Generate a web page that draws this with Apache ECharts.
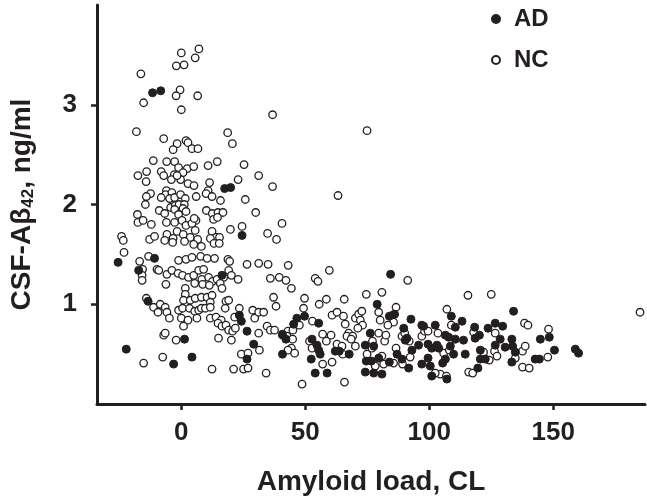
<!DOCTYPE html>
<html>
<head>
<meta charset="utf-8">
<script src="https://cdn.jsdelivr.net/npm/echarts@6/dist/echarts.min.js"></script>
<style>
  html, body { margin: 0; padding: 0; background: #fff; }
  #main { width: 647px; height: 501px; }
</style>
</head>
<body>
<div id="main"></div>
<script>
  // [amyloid load (CL), CSF-Ab42 (ng/ml)]
  var adPoints = [
    [-11.6, 3.12], [-8.3, 3.14], [17.5, 2.16], [19.9, 2.17], [24.5, 1.69],
    [-25.5, 1.42], [-10.8, 1.46], [-17.2, 1.34], [16.4, 1.29], [-13.4, 1.03],
    [23.4, 0.89], [24.2, 0.83], [26.5, 0.73], [29.2, 0.60], [1.3, 0.65],
    [-22.2, 0.55], [-3.1, 0.40], [4.3, 0.47], [26.5, 0.45],
    [84.4, 1.30], [79, 1.00], [83.9, 0.88], [86, 0.90], [46.6, 0.86], [49.7, 0.88],
    [55.4, 0.81], [92.6, 0.85], [97.7, 0.78], [45.3, 0.80], [40.8, 0.70], [42.2, 0.65],
    [40.8, 0.50], [52.7, 0.65], [55.4, 0.54], [52.4, 0.45], [56, 0.50], [54.7, 0.59],
    [62.1, 0.53], [63.7, 0.53], [67.7, 0.50], [54, 0.31], [58.8, 0.31],
    [74.2, 0.59], [76.2, 0.71], [77.6, 0.58], [74.6, 0.43], [76.6, 0.43], [74.2, 0.32],
    [77.6, 0.31], [80.9, 0.30], [79.6, 0.46], [83.9, 0.42], [87, 0.50], [89, 0.45],
    [91.7, 0.36], [91, 0.66], [89.7, 0.76], [90.3, 0.64], [95.7, 0.59], [97, 0.79],
    [99.5, 0.60], [101, 0.56], [100.4, 0.38], [99.5, 0.46], [97, 0.40], [93, 0.54],
    [134, 0.93], [108.9, 0.88], [113.2, 0.83], [110.5, 0.77], [118.3, 0.77], [123.7, 0.76],
    [126.6, 0.81], [129.6, 0.78], [102.4, 0.79], [106.5, 0.69], [107.8, 0.67], [110.5, 0.65],
    [113.8, 0.64], [118.5, 0.66], [120.2, 0.69], [133.3, 0.65], [128.6, 0.65], [144.8, 0.65],
    [148.4, 0.67], [103.1, 0.59], [103.8, 0.56], [108.5, 0.58], [109.8, 0.50], [114.5, 0.50],
    [120.6, 0.54], [126.6, 0.59], [130.6, 0.57], [133.6, 0.58], [134.7, 0.52], [150.5, 0.54],
    [158.9, 0.55], [160.2, 0.51], [106.5, 0.45], [105.4, 0.41], [120.6, 0.45], [122.6, 0.45],
    [133.3, 0.42], [142.7, 0.45], [144.4, 0.45], [119.6, 0.36], [107.1, 0.25], [101, 0.28]
  ];

  var ncPoints = [
    [0, 3.52], [7.1, 3.56], [5.6, 3.47], [-2, 3.39], [1.1, 3.40], [-16.3, 3.31],
    [-0.5, 3.15], [-2.1, 3.09], [6.6, 3.09], [-15.2, 3.02], [0, 2.95], [-18.1, 2.73],
    [18.7, 2.72], [36.8, 2.90], [74.9, 2.74], [36.8, 2.18], [63.2, 2.09], [40.6, 1.81],
    [34.8, 1.71], [38.4, 1.65], [35, 1.40], [43.1, 1.39],
    [-7.1, 2.66], [1.9, 2.64], [2.7, 2.62], [-1.7, 2.61], [-3.3, 2.55], [4.3, 2.56],
    [6.7, 2.56], [20.6, 2.61], [-11.3, 2.44], [-5.9, 2.43], [-2.7, 2.43], [-1.1, 2.37],
    [2.4, 2.36], [5, 2.38], [10.8, 2.39], [14.5, 2.43], [25.3, 2.40], [31.2, 2.29],
    [-17.5, 2.29], [-14, 2.33], [-14.2, 2.23], [-8.1, 2.33], [-7.1, 2.29], [-2.8, 2.30],
    [0.7, 2.32], [-4, 2.25], [-0.3, 2.25], [-1.7, 2.29], [2.7, 2.21], [5.1, 2.19],
    [11.4, 2.22], [22.9, 2.25], [10.8, 2.14], [10, 2.11], [12.4, 2.08], [15.8, 2.04],
    [25.8, 2.05], [-12.4, 2.11], [-14.1, 2.08], [-14.5, 2.00], [-6, 2.14], [-6.3, 2.10],
    [-3.8, 2.12], [-8.1, 2.07], [-4.7, 2.06], [-2.7, 2.07], [-0.3, 2.10], [1.6, 2.06],
    [6, 2.08], [-8.9, 1.94], [-6.7, 1.91], [-4.3, 1.97], [-2.4, 1.99], [-0.9, 2.00],
    [1.2, 2.00], [0.7, 1.96], [-2.7, 1.95], [-1.1, 1.90], [1.9, 1.93], [5.9, 1.84],
    [10.1, 1.94], [12.5, 1.91], [14.8, 1.92], [16.8, 1.92], [13, 1.85], [14.6, 1.87],
    [30, 1.92], [-17.7, 1.90], [-17.5, 1.82], [-15.4, 1.84], [-12.1, 1.80], [-6, 1.82],
    [-2.7, 1.82], [0.3, 1.84], [1.9, 1.79], [4.3, 1.81], [5.2, 1.86], [-1.7, 1.73],
    [-5.8, 1.70], [-3.3, 1.66], [-6.7, 1.64], [-3.5, 1.62], [0.8, 1.70], [3.6, 1.67],
    [1.3, 1.63], [5.6, 1.74], [6.6, 1.65], [5, 1.60], [8.1, 1.58], [12.4, 1.73],
    [14, 1.67], [15.4, 1.67], [11.7, 1.66], [13.2, 1.61], [15.3, 1.61], [19.8, 1.75],
    [24.5, 1.78], [-24.1, 1.68], [-23.4, 1.64], [-12.8, 1.65], [-10.8, 1.68], [-23.1, 1.52],
    [-16.8, 1.43], [-13.2, 1.48], [-1.1, 1.44], [1.9, 1.45], [4.3, 1.47], [7.8, 1.48],
    [10.4, 1.46], [13.4, 1.46], [18.8, 1.45], [19.5, 1.43], [26.5, 1.40], [31.2, 1.41],
    [-15.6, 1.35], [-15.8, 1.29], [-15.8, 1.24], [-9.8, 1.35], [-9.1, 1.34], [-5.8, 1.30],
    [-3.8, 1.34], [-1.3, 1.31], [0.5, 1.29], [2.9, 1.27], [5, 1.29], [7, 1.34], [9, 1.35],
    [8.3, 1.25], [11, 1.27], [12.6, 1.23], [14.4, 1.25], [17.1, 1.27], [19.1, 1.34],
    [20.2, 1.29], [22.9, 1.25], [-6.2, 1.20], [5.4, 1.21], [8.6, 1.20], [11.3, 1.19],
    [15.7, 1.21], [16.4, 1.16], [1.6, 1.16], [1.6, 1.10], [0.9, 1.04], [3.6, 1.04],
    [5.6, 1.06], [8.1, 1.07], [10.4, 1.07], [12.4, 1.09], [11.7, 1.02], [-14.1, 1.06],
    [-11.2, 0.97], [-8.5, 1.00], [-6.5, 0.97], [-9.4, 0.92], [-5.8, 0.92], [-4.8, 0.86],
    [-1.1, 0.94], [0.5, 0.96], [3.3, 0.96], [5.4, 0.93], [7, 0.94], [8.1, 0.96], [9.7, 0.96],
    [11.7, 0.97], [0, 0.86], [2.7, 0.84], [0.9, 0.78], [6.3, 0.86], [11.7, 0.86], [14, 0.87],
    [16.1, 0.84], [18, 1.03], [19.1, 1.04], [23.4, 0.96], [17.7, 0.96], [14.8, 0.81],
    [16.4, 0.78], [18, 0.79], [19.1, 0.74], [20.7, 0.73], [21.8, 0.76], [21.5, 0.87],
    [20.2, 0.64], [15, 0.66], [28.8, 0.94], [29.6, 0.86], [31.2, 0.92], [33.2, 0.92],
    [31.2, 0.71], [31.5, 0.54], [-7.1, 0.69], [-6.5, 0.71], [-2.1, 0.64], [-15.2, 0.41],
    [-7.5, 0.47], [12.4, 0.35], [21.1, 0.35], [25.1, 0.35], [26.9, 0.36], [24.2, 0.50],
    [26.9, 0.51], [34.2, 0.31],
    [59.7, 1.34], [35.9, 1.26], [39.5, 1.27], [42.2, 1.24], [44.4, 1.16], [54, 1.26],
    [55.1, 1.23], [91.3, 1.24], [80.9, 1.12], [74.6, 1.10], [37.2, 1.07], [38.2, 0.98],
    [49.7, 1.06], [55.6, 1.00], [58.5, 1.05], [65.7, 1.05], [86.6, 0.97], [49.3, 0.96],
    [52.9, 0.83], [60.8, 0.89], [62.8, 0.92], [65.4, 0.88], [70.2, 0.86], [71.5, 0.90],
    [72.8, 0.93], [72.2, 0.84], [79.6, 0.92], [80.2, 0.84], [85.3, 0.89], [85.6, 0.82],
    [83.3, 0.79], [66.1, 0.80], [73.1, 0.79], [71.2, 0.76], [67.5, 0.71], [34.6, 0.78],
    [35.9, 0.74], [37.6, 0.74], [40.8, 0.69], [43, 0.73], [45, 0.74], [47.6, 0.79],
    [42.6, 0.68], [44.9, 0.65], [44.4, 0.56], [43, 0.54], [45.7, 0.51], [51.7, 0.63],
    [52.7, 0.56], [57, 0.70], [58.5, 0.63], [60.4, 0.69], [62.8, 0.60], [64.8, 0.58],
    [65.1, 0.50], [66.8, 0.68], [69.1, 0.68], [68.5, 0.65], [70.2, 0.58], [57, 0.40],
    [60.8, 0.42], [48.7, 0.20], [65.8, 0.22], [74.9, 0.50], [76.9, 0.56], [77.1, 0.63],
    [79.6, 0.71], [80.9, 0.48], [82, 0.63], [82.5, 0.69], [85.6, 0.41], [86.6, 0.56],
    [89.2, 0.40], [92.3, 0.47], [78.2, 0.38], [81.6, 0.40], [89, 0.68], [90.1, 0.71],
    [91.9, 0.63], [97, 0.68], [98.1, 0.73], [99.5, 0.73],
    [115.6, 1.09], [125, 1.10], [107.1, 0.95], [108.9, 0.79], [138.4, 0.81], [139.8, 0.79],
    [148.1, 0.75], [103.5, 0.71], [117.9, 0.72], [126.6, 0.71], [105.8, 0.51], [108.1, 0.54],
    [121.9, 0.52], [126.3, 0.53], [127.3, 0.48], [124.2, 0.44], [134.7, 0.46], [137.6, 0.53],
    [138.7, 0.58], [147.8, 0.47], [115.9, 0.32], [117.5, 0.31], [137.6, 0.37], [140.3, 0.36],
    [104.4, 0.30], [102.4, 0.31], [106.9, 0.28], [185, 0.92]
  ];

  var xTicks = [0, 50, 100, 150];
  var yTicks = [1, 2, 3];

  var chartDom = document.getElementById('main');
  var myChart = echarts.init(chartDom, null, { renderer: 'canvas' });

  var boldFont = 'Liberation Sans';
  var ink = '#231f20';

  var option = {
    animation: false,
    backgroundColor: '#fff',
    legend: {
      orient: 'vertical',
      left: 486,
      top: 2,
      itemWidth: 26,
      itemHeight: 8,
      itemGap: 17,
      icon: 'circle',
      textStyle: { fontFamily: boldFont, fontWeight: 'bold', fontSize: 24, color: ink },
      data: ['AD', 'NC']
    },
    grid: { left: 97, right: 2, top: 5, bottom: 92 },
    xAxis: {
      type: 'value',
      min: -34,
      max: 187,
      name: 'Amyloid load, CL',
      nameLocation: 'middle',
      nameGap: 64,
      nameTextStyle: { fontFamily: boldFont, fontWeight: 'bold', fontSize: 28, color: ink },
      splitLine: { show: false },
      axisLine: { show: true, onZero: false, lineStyle: { color: ink, width: 3 } },
      axisTick: { show: true, customValues: xTicks, length: 6, lineStyle: { color: ink, width: 2.5 } },
      axisLabel: {
        customValues: xTicks,
        margin: 16,
        fontFamily: boldFont, fontWeight: 'bold', fontSize: 26, color: ink
      }
    },
    yAxis: {
      type: 'value',
      min: 0,
      max: 4,
      name: 'CSF-A\u03b2{sub|42}, ng/ml',
      nameLocation: 'middle',
      nameGap: 60,
      nameRotate: 90,
      nameTextStyle: {
        fontFamily: boldFont, fontWeight: 'bold', fontSize: 28, color: ink,
        rich: {
          sub: { fontFamily: boldFont, fontWeight: 'bold', fontSize: 17, verticalAlign: 'bottom', padding: [12, 0, 0, 0], color: ink }
        }
      },
      splitLine: { show: false },
      axisLine: { show: true, onZero: false, lineStyle: { color: ink, width: 3 } },
      axisTick: { show: true, customValues: yTicks, length: 6, lineStyle: { color: ink, width: 2.5 } },
      axisLabel: {
        customValues: yTicks,
        margin: 20,
        fontFamily: boldFont, fontWeight: 'bold', fontSize: 26, color: ink
      }
    },
    series: [
      {
        name: 'NC',
        type: 'scatter',
        symbol: 'circle',
        symbolSize: 7.5,
        itemStyle: { color: '#ffffff', borderColor: ink, borderWidth: 1.3, opacity: 1 },
        data: ncPoints,
        z: 2
      },
      {
        name: 'AD',
        type: 'scatter',
        symbol: 'circle',
        symbolSize: 8,
        itemStyle: { color: ink, borderColor: ink, borderWidth: 1, opacity: 1 },
        data: adPoints,
        z: 3
      }
    ]
  };

  myChart.setOption(option);

  window.addEventListener('resize', myChart.resize);
</script>
</body>
</html>
